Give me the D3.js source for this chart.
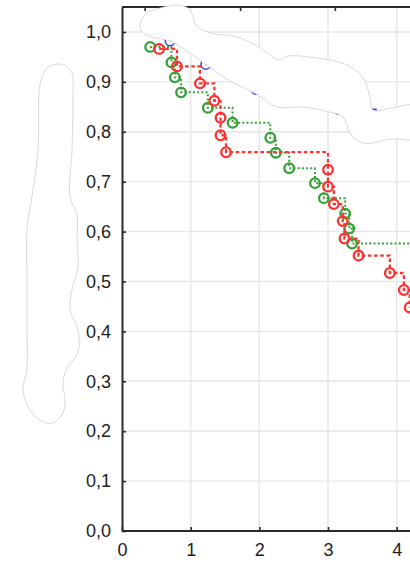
<!DOCTYPE html>
<html>
<head>
<meta charset="utf-8">
<script src="https://cdn.jsdelivr.net/npm/d3@7"></script>
<style>
  html, body { margin: 0; padding: 0; background: #fff; overflow: hidden; }
  svg { display: block; }
  text { font-family: "Liberation Sans", Arial, sans-serif; }
</style>
</head>
<body>
<svg id="chart" width="410" height="563"></svg>
<script>
// Cumulative proportion surviving, three groups (step curves with event markers)
const yTicks = [0.0, 0.1, 0.2, 0.3, 0.4, 0.5, 0.6, 0.7, 0.8, 0.9, 1.0];
const yTickLabels = ["0,0", "0,1", "0,2", "0,3", "0,4", "0,5", "0,6", "0,7", "0,8", "0,9", "1,0"];
const xTicks = [0, 1, 2, 3, 4];
const xTickLabels = ["0", "1", "2", "3", "4"];
const topTicks = [0.33, 1.72, 3.1];

// group 1 (red, dashed)
const redTimes = [0.54, 0.80, 1.135, 1.345, 1.435, 1.435, 1.515, 3.0, 3.0, 3.085, 3.215, 3.24, 3.445, 3.9, 4.105, 4.19];
const redSurv  = [0.966, 0.931, 0.897, 0.862, 0.828, 0.793, 0.759, 0.724, 0.690, 0.655, 0.621, 0.586, 0.552, 0.517, 0.483, 0.448];

// group 2 (green, dotted)
const greenTimes = [0.41, 0.72, 0.77, 0.86, 1.25, 1.61, 2.16, 2.24, 2.435, 2.81, 2.94, 3.25, 3.31, 3.35];
const greenSurv  = [0.970, 0.939, 0.909, 0.879, 0.848, 0.818, 0.788, 0.758, 0.727, 0.697, 0.667, 0.636, 0.606, 0.576];
const greenEnd = 5.0;

// group 3 (blue, solid)
const blueTimes = [0.70, 1.22, 1.95, 3.15, 3.7];
const blueSurv  = [0.982, 0.935, 0.885, 0.845, 0.81];
const blueEnd = 5.0;

const svg = d3.select("#chart");
const x = d3.scaleLinear().domain([0, 6]).range([122, 534]);
const y = d3.scaleLinear().domain([0, 1.05]).range([531, 7]);

// grid
const grid = svg.append("g").attr("stroke", "#e6e6e6").attr("stroke-width", 1.4);
grid.selectAll("line.v").data(xTicks.filter(d => d > 0)).join("line")
  .attr("x1", d => x(d)).attr("x2", d => x(d))
  .attr("y1", y(1.05)).attr("y2", y(0));
grid.selectAll("line.h").data(yTicks.filter(d => d > 0)).join("line")
  .attr("x1", x(0)).attr("x2", x(6))
  .attr("y1", d => y(d)).attr("y2", d => y(d));

// series
function stepPoints(times, surv, end) {
  const pts = times.map((t, i) => [t, surv[i]]);
  if (end !== undefined) pts.push([end, surv[surv.length - 1]]);
  return pts;
}
const line = d3.line().x(d => x(d[0])).y(d => y(d[1])).curve(d3.curveStepAfter);

const series = [
  { times: blueTimes, surv: blueSurv, end: blueEnd, color: "#3b3bff", dash: null, width: 1.4, cw: 1.5 },
  { times: greenTimes, surv: greenSurv, end: greenEnd, color: "#35a035", dash: "2,2.2", width: 2.0, cw: 2.3 },
  { times: redTimes, surv: redSurv, end: undefined, color: "#ff3030", dash: "3.6,2.6", width: 2.3, cw: 2.3 }
];

series.forEach(s => {
  const g = svg.append("g");
  g.append("path")
    .datum(stepPoints(s.times, s.surv, s.end))
    .attr("fill", "none")
    .attr("stroke", s.color)
    .attr("stroke-width", s.width)
    .attr("stroke-dasharray", s.dash)
    .attr("d", line);
  g.selectAll("circle").data(s.times.map((t, i) => [t, s.surv[i]])).join("circle")
    .attr("cx", d => x(d[0])).attr("cy", d => y(d[1]))
    .attr("r", 4.8)
    .attr("fill", "none")
    .attr("stroke", s.color)
    .attr("stroke-width", s.cw);
});

// axes
const yAxis = d3.axisLeft(y).tickValues(yTicks)
  .tickFormat((d, i) => yTickLabels[i]).tickSizeInner(-4).tickSizeOuter(0).tickPadding(11);
const gy = svg.append("g").attr("transform", `translate(${x(0)},0)`).call(yAxis);

const xAxis = d3.axisBottom(x).tickValues(xTicks)
  .tickFormat((d, i) => xTickLabels[i]).tickSizeInner(-4).tickSizeOuter(0).tickPadding(12);
const gx = svg.append("g").attr("transform", `translate(0,${y(0)})`).call(xAxis);
gx.select(".domain").attr("d", `M${x(0)},0H${x(6)}`);

const topAxis = d3.axisTop(x).tickValues(topTicks).tickFormat("").tickSizeInner(-4).tickSizeOuter(0);
const gt = svg.append("g").attr("transform", `translate(0,${y(1.05)})`).call(topAxis);
gt.select(".domain").attr("d", `M${x(0)},0H${x(6)}`);

[gy, gx, gt].forEach(g => {
  g.select(".domain").attr("stroke", "#2a2a2a").attr("stroke-width", 2);
  g.selectAll(".tick line").attr("stroke", "#2a2a2a").attr("stroke-width", 1.6);
  g.selectAll(".tick text").attr("fill", "#222").attr("font-size", 18)
    .attr("font-family", "'Liberation Sans', Arial, sans-serif");
});

// white patches with a faint outline
const patchTop = [
  [140,24],[147,13],[160,8],[177,5],[188,8],[193,16],[195,24],[207,32],[237,37],[257,46],
  [270,55],[278,60],[288,56],[317,58],[345,64],[362,76],[370,97],[373,110],[392,108],[416,106],
  [418,138],[392,139],[363,143],[350,133],[343,117],[325,111],[303,107],[277,107],[258,95],
  [230,81],[208,66],[187,51],[170,41],[152,37],[142,32]
];
const patchLeft = [
  [57,64],[66,66],[72,73],[73,95],[72,150],[70,197],[77,215],[77,240],[78,267],[72,290],
  [70,310],[78,330],[78,352],[66,370],[63,385],[65,400],[63,413],[53,423],[40,420],[30,410],
  [23,390],[27,368],[27,330],[27,280],[27,230],[33,190],[38,150],[40,85],[46,69]
];
const patchPath = d3.line().curve(d3.curveCatmullRomClosed.alpha(0.5));
[patchTop, patchLeft].forEach(p => {
  svg.append("path").attr("d", patchPath(p))
    .attr("fill", "#fff").attr("stroke", "#c8c8c8").attr("stroke-width", 0.7);
});
</script>
</body>
</html>
